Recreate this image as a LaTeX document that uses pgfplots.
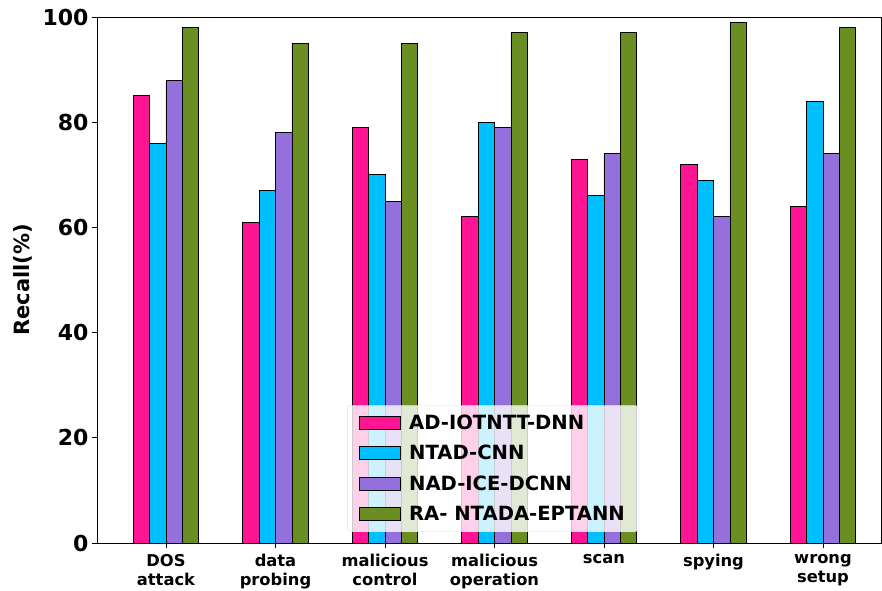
\documentclass[border=0pt]{standalone}
\usepackage{pgfplots}
\pgfplotsset{compat=1.18}
\usepackage{fontspec}
\setmainfont{DejaVu Sans}
\definecolor{cpink}{HTML}{FF1493}
\definecolor{ccyan}{HTML}{00BFFF}
\definecolor{cpurple}{HTML}{9370DB}
\definecolor{cgreen}{HTML}{6B8E23}
\begin{document}
\begin{tikzpicture}
\begin{axis}[
  name=ax,
  scale only axis,
  width=784pt, height=526pt,
  xmin=-0.63, xmax=6.53,
  ymin=0, ymax=100,
  ybar=0pt, bar width=0.15,
  xtick={0,1,2,3,4,5,6},
  xticklabels={{DOS\\attack},{data\\probing},{malicious\\control},{malicious\\operation},{scan},{spying},{wrong\\setup}},
  x tick label style={align=center, font=\fontsize{16.3}{18.5}\selectfont\bfseries, anchor=north, yshift=-3pt},
  ytick={0,20,40,60,80,100},
  y tick label style={font=\fontsize{22}{24}\selectfont\bfseries},
  /pgf/number format/assume math mode=true,
  tick align=outside, tick pos=left,
  major tick length=5pt,
  major tick style={line width=0.8pt, black},
  ylabel={Recall(\%)},
  ylabel style={font=\fontsize{21}{23}\selectfont\bfseries, at={(axis description cs:-0.0944,0.5)}, anchor=center},
  axis line style={black, line width=0.9pt},
  legend cell align=left,
  legend style={at={(0.319,0.021)}, anchor=south west, font=\fontsize{19.6}{22}\selectfont\bfseries,
    draw=black!12, rounded corners=4pt, fill=white, fill opacity=0.8, text opacity=1,
    row sep=11.5pt, inner xsep=12pt, inner ysep=8pt,
    nodes={text height=14pt, text depth=1pt, inner sep=2pt}},
  legend image code/.code={\draw[#1, sharp corners, fill opacity=1, draw opacity=1] (0pt,-6.5pt) rectangle (41pt,6.5pt); \path (47pt,0pt);},
  every axis plot/.append style={draw=black, line width=0.8pt},
]
\addplot[fill=cpink] coordinates {(0,85) (1,61) (2,79) (3,62) (4,73) (5,72) (6,64)};
\addplot[fill=ccyan] coordinates {(0,76) (1,67) (2,70) (3,80) (4,66) (5,69) (6,84)};
\addplot[fill=cpurple] coordinates {(0,88) (1,78) (2,65) (3,79) (4,74) (5,62) (6,74)};
\addplot[fill=cgreen] coordinates {(0,98) (1,95) (2,95) (3,97) (4,97) (5,99) (6,98)};
\legend{AD-IOTNTT-DNN, NTAD-CNN, NAD-ICE-DCNN, RA- NTADA-EPTANN}
\end{axis}
\pgfresetboundingbox
\path[use as bounding box] ([shift={(-97pt,-47pt)}]ax.south west) rectangle ([shift={(1pt,17pt)}]ax.north east);
\end{tikzpicture}
\end{document}
